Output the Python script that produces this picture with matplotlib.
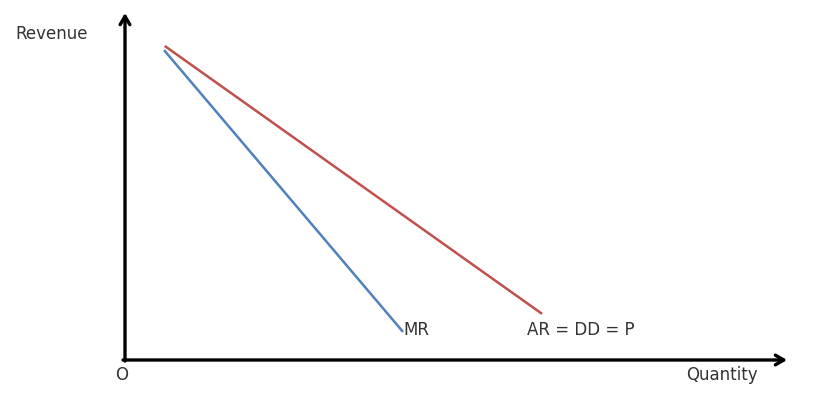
import matplotlib
matplotlib.use("Agg")
import matplotlib.pyplot as plt

# demand / marginal revenue lines (quantity, revenue) on a 0-100 scale
ar_q = [6.0, 63.0]
ar_r = [90.5, 13.3]
mr_q = [5.9, 42.0]
mr_r = [89.3, 8.1]

plt.rcParams["font.family"] = ["DejaVu Sans"]

fig = plt.figure(figsize=(8.4, 3.99), dpi=100)
ax = fig.add_axes([125 / 840, 39 / 399, 662 / 840, 347 / 399])
ax.set_xlim(0, 100)
ax.set_ylim(0, 100)
ax.axis("off")

ax.plot(ar_q, ar_r, color="#c0504d", linewidth=1.8, solid_capstyle="butt")
ax.plot(mr_q, mr_r, color="#4f81bd", linewidth=1.8, solid_capstyle="butt")

arrow = dict(arrowstyle="->,head_length=0.6,head_width=0.35", color="black",
             linewidth=2.4, shrinkA=0, shrinkB=0)
ax.annotate("", xy=(0, 1), xytext=(0, -0.003), xycoords="axes fraction",
            textcoords="axes fraction", arrowprops=arrow)
ax.annotate("", xy=(1, 0), xytext=(-0.003, 0), xycoords="axes fraction",
            textcoords="axes fraction", arrowprops=arrow)

tc = "#333333"
fs = 12
ax.text(mr_q[1] + 0.1, mr_r[1] + 0.5, "MR", fontsize=fs, color=tc, va="center", ha="left")
ax.text(60.8, mr_r[1] + 0.5, "AR = DD = P", fontsize=fs, color=tc, va="center", ha="left")
fig.text(15 / 840, 1 - 34 / 399, "Revenue", fontsize=fs, color=tc, va="center", ha="left")
fig.text(758 / 840, 1 - 375 / 399, "Quantity", fontsize=fs, color=tc, va="center", ha="right")
fig.text(122 / 840, 1 - 375 / 399, "O", fontsize=fs, color=tc, va="center", ha="center")

fig.savefig("out.png", dpi=100)
